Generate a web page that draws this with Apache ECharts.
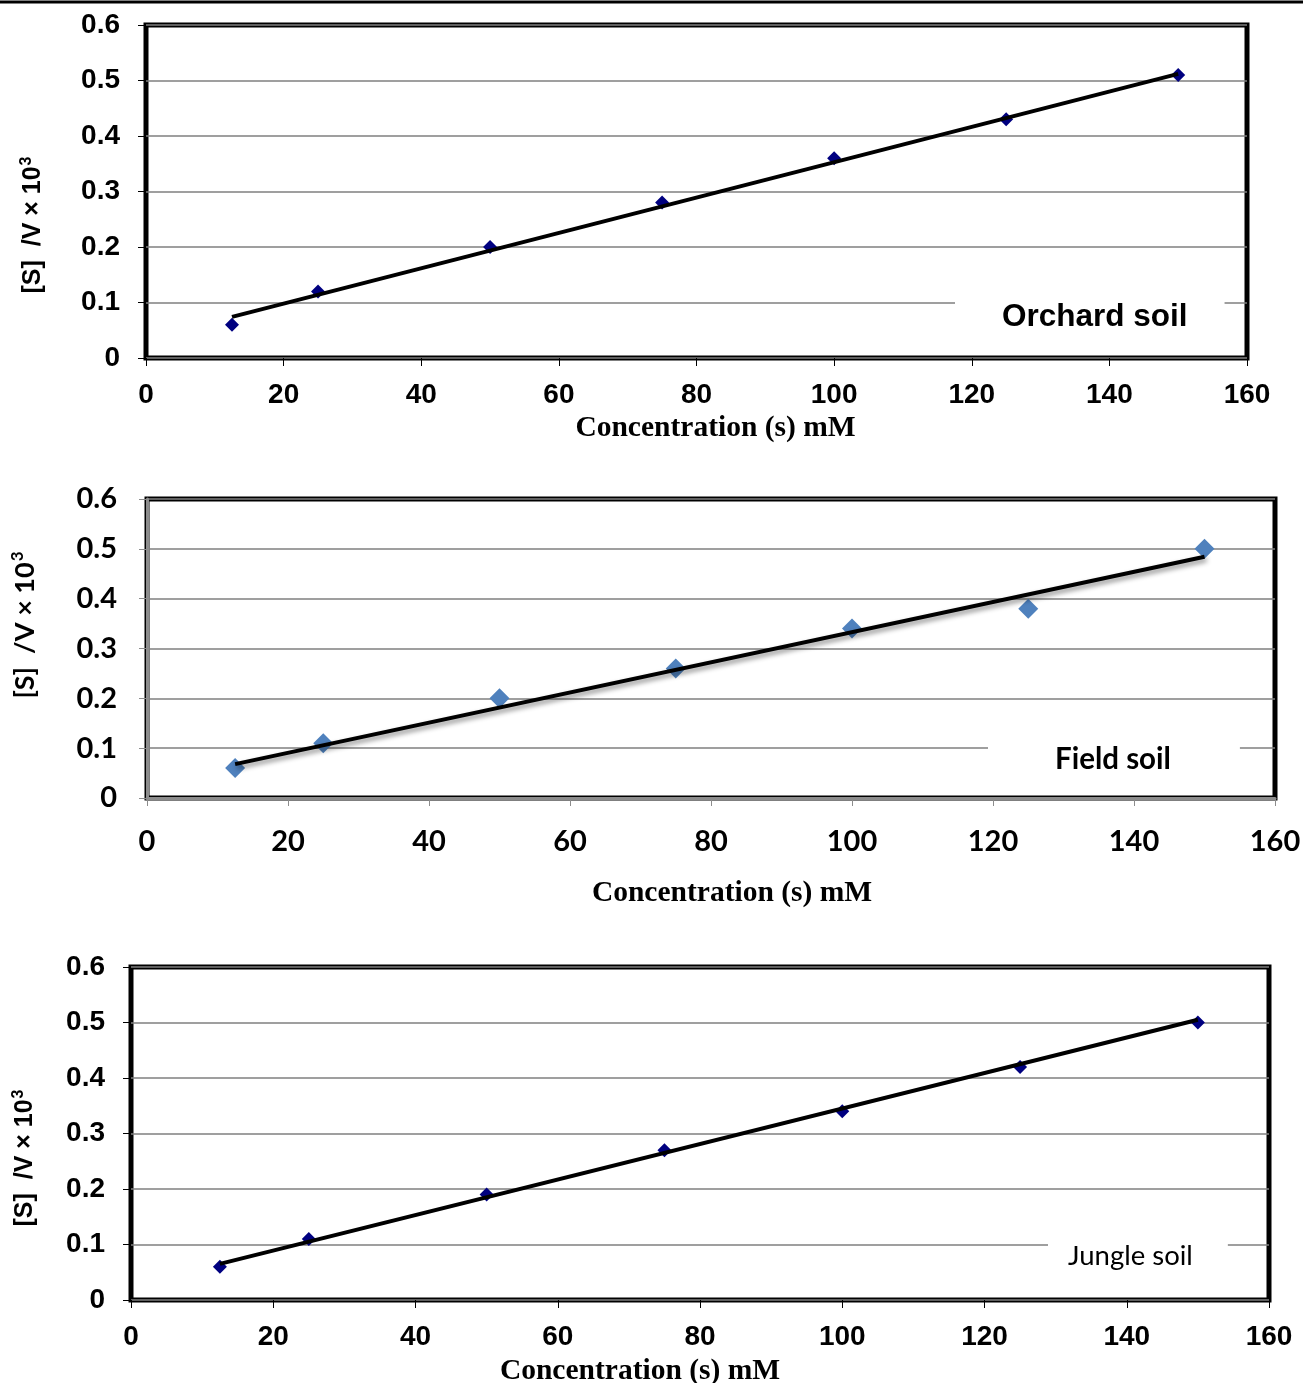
<!DOCTYPE html>
<html>
<head>
<meta charset="utf-8">
<title>[S]/V vs concentration</title>
<script src="https://cdn.jsdelivr.net/npm/echarts@6/dist/echarts.min.js"></script>
<style>
  html, body { margin: 0; padding: 0; background: #fff; }
  #main { width: 1303px; height: 1383px; }
</style>
</head>
<body>
<div id="main"></div>
<script>
document.addEventListener('DOMContentLoaded', function() {
    // substrate concentration (mM), shared by the three plots
    var concentration = [12.5, 25, 50, 75, 100, 125, 150];

    // [S]/V x 10^3
    var orchardValues = [0.06, 0.12, 0.20, 0.28, 0.36, 0.43, 0.51];
    var fieldValues   = [0.06, 0.11, 0.20, 0.26, 0.34, 0.38, 0.50];
    var jungleValues  = [0.06, 0.11, 0.19, 0.27, 0.34, 0.42, 0.50];

    // trend line end points (x, y) as drawn
    var orchardTrend = [[12.5, 0.074], [150, 0.512]];
    var fieldTrend   = [[12.5, 0.068], [150, 0.484]];
    var jungleTrend  = [[12.5, 0.065], [150, 0.505]];

    var xTicks = { min: 0, max: 160, interval: 20 };
    var yTicks = { min: 0, max: 0.6, interval: 0.1 };

    var arial = 'Liberation Sans, Arial, sans-serif';
    var calibri = 'Lato, Noto Sans, sans-serif';
    var times = 'Liberation Serif, Times New Roman, serif';

    function pairs(xs, ys) {
        return xs.map(function(x, i) { return [x, ys[i]]; });
    }

    var panels = [
        { name: 'Orchard soil', values: orchardValues, trend: orchardTrend,
          grid: { left: 146, top: 25, width: 1101, height: 333 },
          font: arial, tickSize: 28, xMargin: 23, yMargin: 26,
          titleGap: 55, titlePad: [0, 0, 0, 38],
          marker: '#000080', markerSize: 14, shadow: false,
          axisColor: null,
          legend: { left: 955, top: 295, padding: [6, 37, 6, 42], font: arial, size: 31.5, weight: 'bold' },
          yTitle: [33, 225, arial, 25] },
        { name: 'Field soil', values: fieldValues, trend: fieldTrend,
          grid: { left: 147, top: 499, width: 1128, height: 299 },
          font: calibri, tickSize: 29, xMargin: 29, yMargin: 30,
          titleGap: 80, titlePad: [0, 0, 0, 42],
          marker: '#4F81BD', markerSize: 20, shadow: true,
          axisColor: '#8c8c8c',
          legend: { left: 988, top: 740, padding: [4, 69, 4, 62], font: calibri, size: 29.5, weight: 'bold' },
          yTitle: [25, 625, calibri, 27] },
        { name: 'Jungle soil', values: jungleValues, trend: jungleTrend,
          grid: { left: 131, top: 967, width: 1138, height: 333 },
          font: arial, tickSize: 28, xMargin: 23, yMargin: 26,
          titleGap: 56, titlePad: [0, 120, 0, 0],
          marker: '#000080', markerSize: 14, shadow: false,
          axisColor: null,
          legend: { left: 1048, top: 1238, padding: [4, 35, 4, 15], font: calibri, size: 27.5, weight: 'normal' },
          yTitle: [25, 1158, arial, 25] }
    ];

    var option = {
        animation: false,
        backgroundColor: '#fff',
        grid: [], xAxis: [], yAxis: [], series: [], legend: [],
        graphic: [{
            type: 'line', shape: { x1: 0, y1: 2, x2: 1303, y2: 2 },
            style: { stroke: '#000', lineWidth: 3 }
        }]
    };

    panels.forEach(function(p, i) {
        option.grid.push(Object.assign({
            show: true, borderColor: '#000', borderWidth: 5, backgroundColor: '#fff',
            outerBoundsMode: 'none', containLabel: false
        }, p.grid));

        option.xAxis.push({
            type: 'value', gridIndex: i,
            min: xTicks.min, max: xTicks.max, interval: xTicks.interval,
            name: 'Concentration (s) mM', nameLocation: 'middle', nameGap: p.titleGap,
            nameTextStyle: { fontFamily: times, fontWeight: 'bold', fontSize: 29.5, color: '#000', padding: p.titlePad },
            axisLine: { show: !!p.axisColor, onZero: false, lineStyle: { color: p.axisColor || '#000', width: 3 } },
            axisTick: { show: true, length: 8, lineStyle: { color: p.axisColor || '#000', width: 1 } },
            axisLabel: { fontFamily: p.font, fontWeight: 'bold', fontSize: p.tickSize, color: '#000', margin: p.xMargin },
            splitLine: { show: false }
        });

        option.yAxis.push({
            type: 'value', gridIndex: i,
            min: yTicks.min, max: yTicks.max, interval: yTicks.interval,
            axisLine: { show: !!p.axisColor, lineStyle: { color: p.axisColor || '#000', width: 3 } },
            axisTick: { show: true, length: 8, lineStyle: { color: p.axisColor || '#000', width: 1 } },
            axisLabel: { fontFamily: p.font, fontWeight: 'bold', fontSize: p.tickSize, color: '#000', margin: p.yMargin },
            splitLine: { show: true, lineStyle: { color: '#7f7f7f', width: 1.5 } }
        });

        option.series.push({
            name: p.name, type: 'scatter', xAxisIndex: i, yAxisIndex: i,
            symbol: 'diamond', symbolSize: p.markerSize,
            itemStyle: { color: p.marker, opacity: 1 },
            data: pairs(concentration, p.values), z: 3
        });

        var lineStyle = { color: '#000', width: 4 };
        if (p.shadow) {
            lineStyle.shadowColor = 'rgba(0,0,0,0.45)';
            lineStyle.shadowBlur = 5;
            lineStyle.shadowOffsetX = 2;
            lineStyle.shadowOffsetY = 3;
        }
        option.series.push({
            name: p.name + ' trend', type: 'line', xAxisIndex: i, yAxisIndex: i,
            symbol: 'none', lineStyle: lineStyle, data: p.trend, z: 4
        });

        option.legend.push({
            data: [p.name], icon: 'none', itemWidth: 0, itemGap: 0,
            left: p.legend.left, top: p.legend.top, padding: p.legend.padding,
            backgroundColor: '#fff', selectedMode: false,
            textStyle: { fontFamily: p.legend.font, fontWeight: p.legend.weight, fontSize: p.legend.size, color: '#000' }
        });

        var fs = p.yTitle[3];
        option.graphic.push({
            type: 'text', x: p.yTitle[0], y: p.yTitle[1], rotation: Math.PI / 2,
            style: {
                text: '{a|[S]  /V × 10}{b|3}',
                rich: {
                    a: { fontFamily: p.yTitle[2], fontWeight: 'bold', fontSize: fs, fill: '#000', color: '#000' },
                    b: { fontFamily: p.yTitle[2], fontWeight: 'bold', fontSize: Math.round(fs * 0.62), fill: '#000', color: '#000',
                         verticalAlign: 'top', padding: [0, 0, Math.round(fs * 0.5), 1] }
                },
                textAlign: 'center', textVerticalAlign: 'middle'
            }
        });
    });

    var myChart = echarts.init(document.getElementById('main'));
    myChart.setOption(option);
});
</script>
</body>
</html>
